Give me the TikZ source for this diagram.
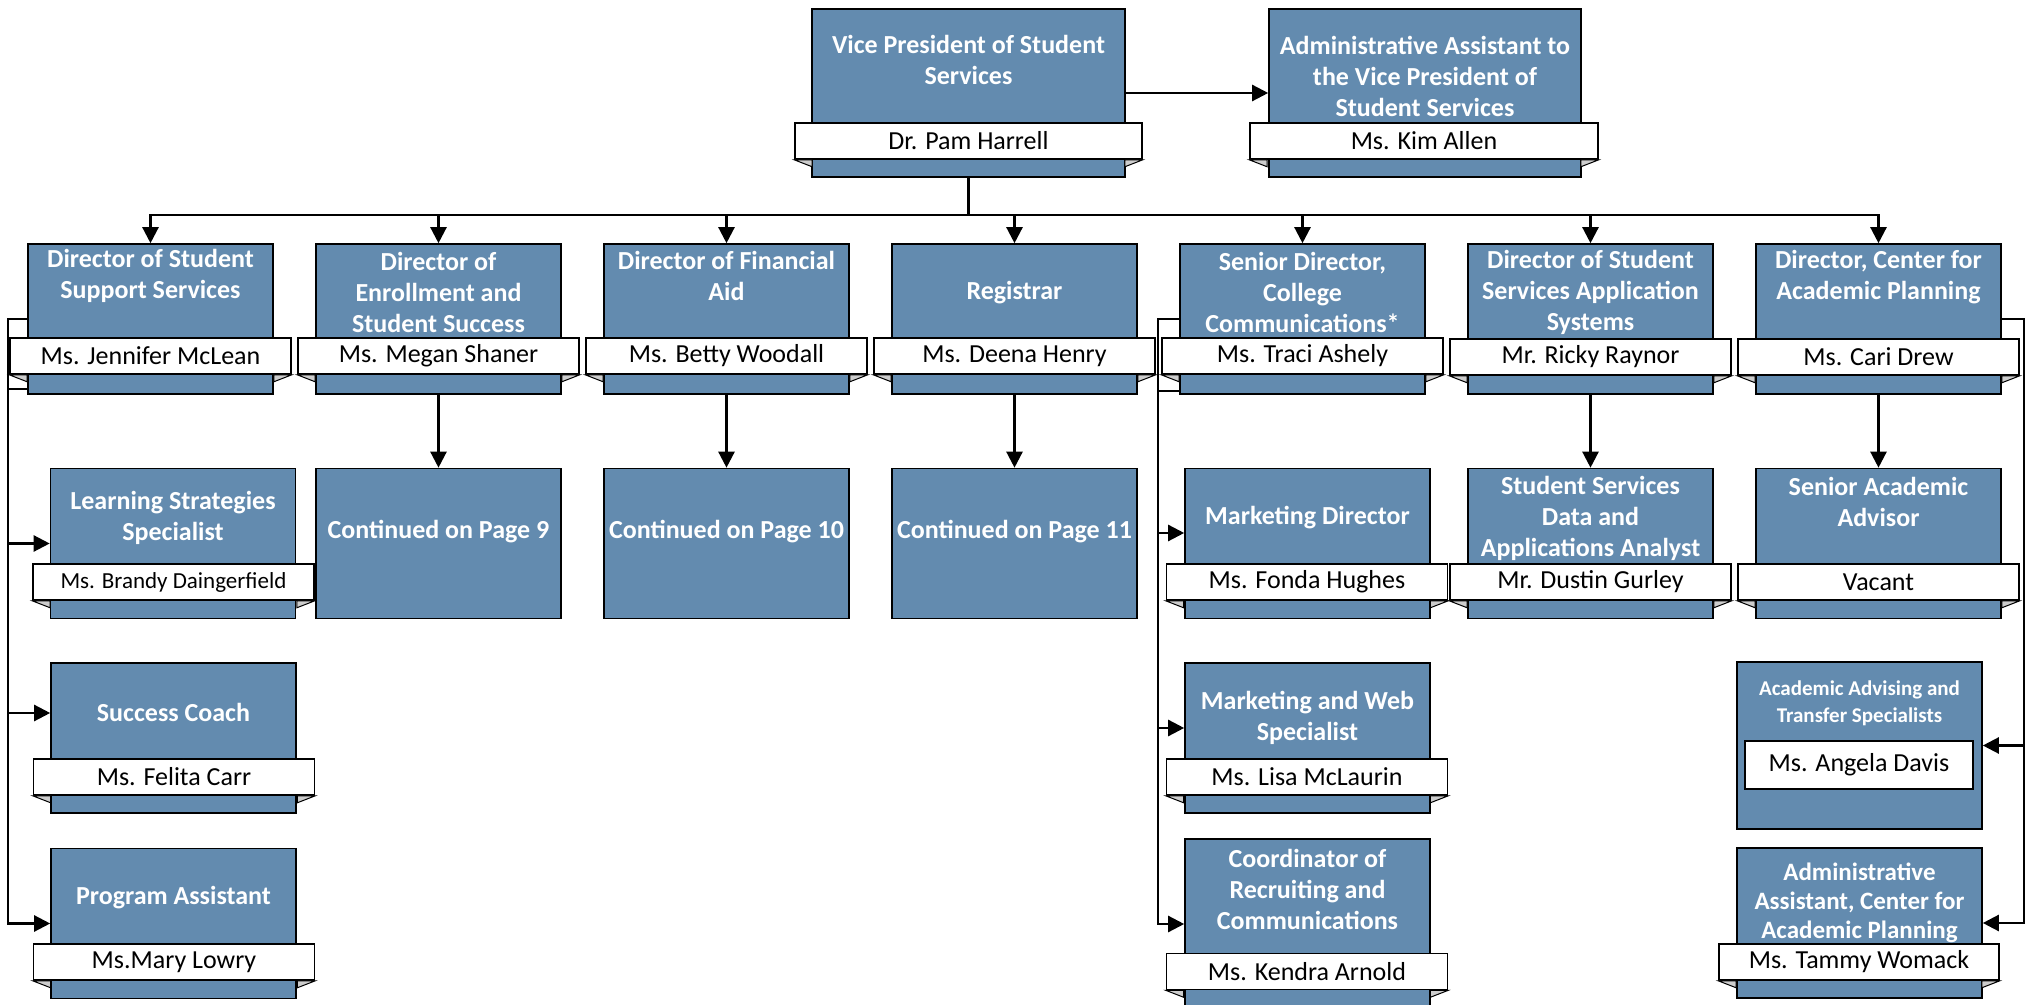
\documentclass[tikz,border=0pt]{standalone}
\usepackage{fontspec}
\setmainfont{Carlito}
\usetikzlibrary{arrows.meta}
\definecolor{boxblue}{RGB}{99,139,175}
\definecolor{foldgray}{RGB}{205,205,205}

\begin{document}
\begin{tikzpicture}[x=0.5pt,y=-0.5pt,
  post/.style={draw=black,line width=0.8pt,fill=boxblue,inner sep=0pt,
    minimum width=122.5pt,minimum height=75pt},
  title/.style={text=white,align=center,inner sep=0pt,
    font=\bfseries\fontsize{13}{15.5}\selectfont},
  holder/.style={draw=black,line width=0.8pt,fill=white,inner sep=0pt,
    minimum width=140.5pt,minimum height=18pt,
    font=\fontsize{13}{15}\selectfont},
  fold/.style={draw=black,line width=0.5pt,fill=foldgray},
  wire/.style={line width=1.2pt},
  link/.style={line width=1.2pt,-{Triangle[length=8pt,width=8pt]}}]

      \useasboundingbox (0,0) rectangle (2026,1005);

      % vice president and assistant
      \node[post,minimum width=156.5pt,minimum height=84pt] (vp) at (968.5,93) {};
      \node[title] (vpt) at (968.5,60) {Vice President of Student\\Services};
      \node[holder,minimum width=173.5pt] (vpn) at (968.5,141) {Dr. Pam Harrell};

      \node[post,minimum width=156pt,minimum height=84pt] (aa) at (1425,93) {};
      \node[title] (aat) at (1425,76) {Administrative Assistant to\\the Vice President of\\Student Services};
      \node[holder,minimum width=174pt] (aan) at (1424,141) {Ms. Kim Allen};

      % directors
      \node[post] (d1) at (150.5,319) {};
      \node[title] (d1t) at (150.5,275.5) {Director of Student\\Support Services};
      \node[holder] (d1n) at (150.5,356) {Ms. Jennifer McLean};

      \node[post] (d2) at (438.5,319) {};
      \node[title] (d2t) at (438.5,292) {Director of\\Enrollment and\\Student Success};
      \node[holder] (d2n) at (438.5,356) {Ms. Megan Shaner};

      \node[post] (d3) at (726.5,319) {};
      \node[title] (d3t) at (726.5,276) {Director of Financial\\Aid};
      \node[holder] (d3n) at (726.5,356) {Ms. Betty Woodall};

      \node[post] (d4) at (1014.5,319) {};
      \node[title] (d4t) at (1014.5,293) {Registrar};
      \node[holder] (d4n) at (1014.5,356) {Ms. Deena Henry};

      \node[post] (d5) at (1302.5,319) {};
      \node[title] (d5t) at (1302.5,292) {Senior Director,\\College\\Communications*};
      \node[holder] (d5n) at (1302.5,356) {Ms. Traci Ashely};

      \node[post] (d6) at (1590.5,319) {};
      \node[title] (d6t) at (1590.5,292) {Director of Student\\Services Application\\Systems};
      \node[holder] (d6n) at (1590.5,357) {Mr. Ricky Raynor};

      \node[post] (d7) at (1878.5,319) {};
      \node[title] (d7t) at (1878.5,277) {Director, Center for\\Academic Planning};
      \node[holder] (d7n) at (1878.5,357) {Ms. Cari Drew};

      % student support services
      \node[post] (s1) at (173,543.5) {};
      \node[title] (s1t) at (173,518) {Learning Strategies\\Specialist};
      \node[holder,font=\fontsize{11.5}{14}\selectfont] (s1n) at (173.5,582) {Ms. Brandy Daingerfield};

      \node[post] (s2) at (173.5,738) {};
      \node[title] (s2t) at (173.5,712) {Success Coach};
      \node[holder] (s2n) at (174,777) {Ms. Felita Carr};

      \node[post] (s3) at (173.5,923.5) {};
      \node[title] (s3t) at (173.5,898) {Program Assistant};
      \node[holder] (s3n) at (174,962) {Ms.Mary Lowry};

      % continued
      \node[post] (c1) at (438.5,543.5) {};
      \node[title] (c1t) at (438.5,532) {Continued on Page 9};
      \node[post] (c2) at (726.5,543.5) {};
      \node[title] (c2t) at (726.5,532) {Continued on Page 10};
      \node[post] (c3) at (1014.5,543.5) {};
      \node[title] (c3t) at (1014.5,532) {Continued on Page 11};

      % college communications
      \node[post] (m1) at (1307.5,543.5) {};
      \node[title] (m1t) at (1307.5,518) {Marketing Director};
      \node[holder] (m1n) at (1307,582) {Ms. Fonda Hughes};

      \node[post] (m2) at (1307.5,738) {};
      \node[title] (m2t) at (1307.5,718) {Marketing and Web\\Specialist};
      \node[holder] (m2n) at (1307,777) {Ms. Lisa McLaurin};

      \node[post,minimum height=85pt] (m3) at (1307.5,924) {};
      \node[title] (m3t) at (1307.5,889) {Coordinator of\\Recruiting and\\Communications};
      \node[holder] (m3n) at (1307,971.5) {Ms. Kendra Arnold};

      % application systems
      \node[post] (a1) at (1590.5,543.5) {};
      \node[title] (a1t) at (1590.5,518) {Student Services\\Data and\\Applications Analyst};
      \node[holder] (a1n) at (1590.5,582) {Mr. Dustin Gurley};

      % academic planning
      \node[post] (p1) at (1878.5,543.5) {};
      \node[title] (p1t) at (1878.5,502) {Senior Academic\\Advisor};
      \node[holder] (p1n) at (1878.5,582) {Vacant};

      \node[post,minimum height=83.5pt] (p2) at (1859.5,745.5) {};
      \node[title,font=\bfseries\fontsize{10.5}{13.5}\selectfont] (p2t) at (1859.5,703) {Academic Advising and\\Transfer Specialists};
      \node[holder,minimum width=114pt,minimum height=24pt] (p2n) at (1859,765) {Ms. Angela Davis};

      \node[post] (p3) at (1859.5,923) {};
      \node[title,font=\bfseries\fontsize{12.5}{14.5}\selectfont] (p3t) at (1859.5,903) {Administrative\\Assistant, Center for\\Academic Planning};
      \node[holder,minimum width=140pt] (p3n) at (1859,962) {Ms. Tammy Womack};

      % folds under the name bands
      \foreach \n in {vpn,aan,d1n,d2n,d3n,d4n,d5n,d6n,d7n,s1n,s2n,s3n,m1n,m2n,m3n,a1n,p1n,p3n}
      {
        \draw[fold] (\n.south west) -- ++(18,7) -- ++(0,-7) -- cycle;
        \draw[fold] (\n.south east) -- ++(-18,7) -- ++(0,-7) -- cycle;
      }

      % connectors
      \coordinate (bus) at (968.5,215);
      \draw[link] (vp) -- (aa);
      \foreach \d in {d1,d2,d3,d4,d5,d6,d7}
        \draw[link] (vp.south) -- (bus) -| (\d.north);

      \draw[link] (d2) -- (c1);
      \draw[link] (d3) -- (c2);
      \draw[link] (d4) -- (c3);
      \draw[link] (d6) -- (a1);
      \draw[link] (d7) -- (p1);

      \coordinate (lt) at (8,319);
      \draw[wire] ([yshift=3pt]d1.south west) -- ++(-20,0);
      \draw[link] (d1.west) -- (lt) |- (s1.west);
      \draw[link] (d1.west) -- (lt) |- ([yshift=12.5pt]s2.west);
      \draw[link] (d1.west) -- (lt) |- (s3.west);

      \coordinate (mt) at (1158,319);
      \draw[wire] ([yshift=2pt]d5.south west) -- ++(-22,0);
      \draw[link] (d5.west) -- (mt) |- ([yshift=5.25pt]m1.west);
      \draw[link] (d5.west) -- (mt) |- ([yshift=5pt]m2.west);
      \draw[link] (d5.west) -- (mt) |- (m3.west);

      \coordinate (rt) at (2024,319);
      \draw[link] (d7.east) -- (rt) |- (p2.east);
      \draw[link] (d7.east) -- (rt) |- (p3.east);
\end{tikzpicture}
\end{document}
